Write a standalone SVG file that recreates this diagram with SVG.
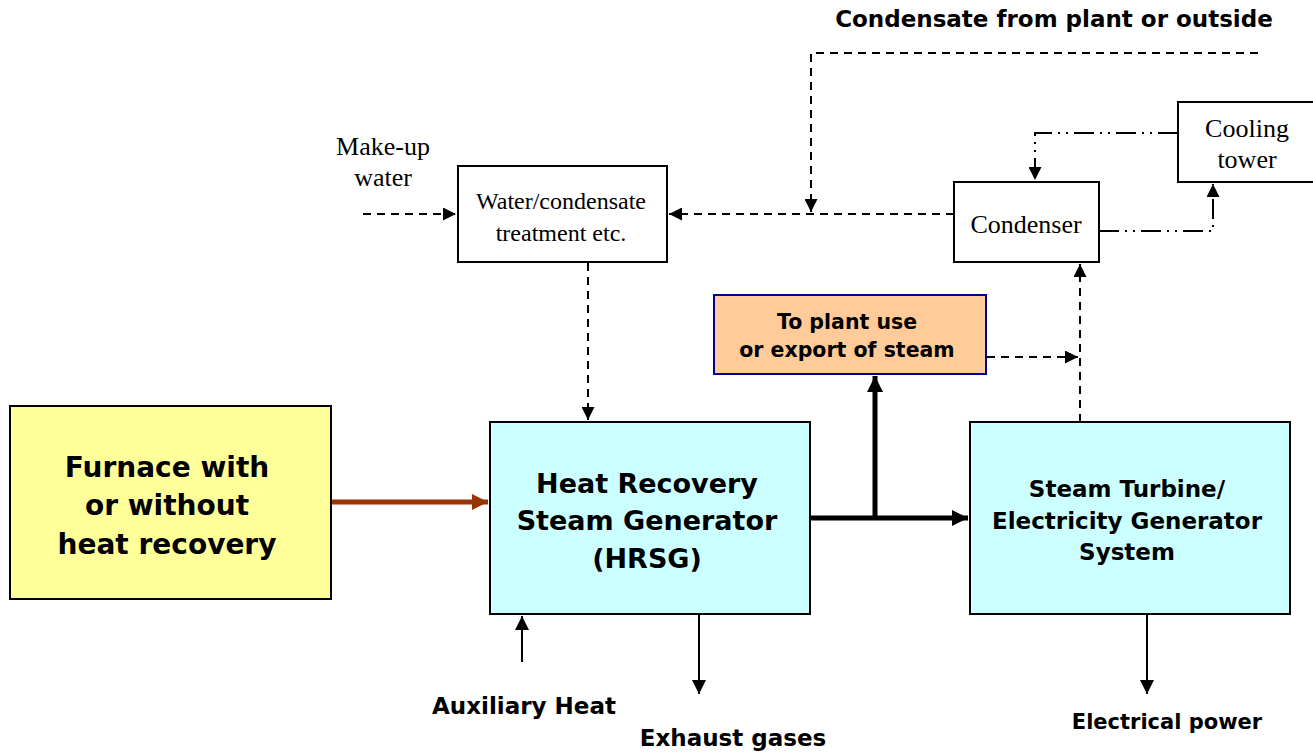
<svg xmlns="http://www.w3.org/2000/svg" width="1313" height="754" viewBox="0 0 1313 754">
<defs>
<style>
.b{font-family:"DejaVu Sans",Verdana,sans-serif;font-weight:bold;fill:#000;text-anchor:middle}
.t{font-family:"Liberation Serif","Times New Roman",serif;fill:#000;text-anchor:middle}
.box{stroke:#000;stroke-width:2}
.dash{fill:none;stroke:#000;stroke-width:2;stroke-dasharray:8 6}
.dd{fill:none;stroke:#000;stroke-width:2;stroke-dasharray:20 6 2 6 2 6}
.thin{fill:none;stroke:#000;stroke-width:2}
.thick{fill:none;stroke:#000;stroke-width:5}
</style>
<marker id="ah" viewBox="0 0 10 10" refX="10" refY="5" markerWidth="13" markerHeight="13" markerUnits="userSpaceOnUse" orient="auto"><path d="M0,0 L10,5 L0,10 z" fill="#000"/></marker>
<marker id="ahs" viewBox="0 0 10 10" refX="10" refY="5" markerWidth="14" markerHeight="14" markerUnits="userSpaceOnUse" orient="auto"><path d="M0,0 L10,5 L0,10 z" fill="#000"/></marker>
<marker id="ahb" viewBox="0 0 10 10" refX="10" refY="5" markerWidth="16" markerHeight="16" markerUnits="userSpaceOnUse" orient="auto"><path d="M0,0 L10,5 L0,10 z" fill="#000"/></marker>
<marker id="ahr" viewBox="0 0 10 10" refX="10" refY="5" markerWidth="16" markerHeight="16" markerUnits="userSpaceOnUse" orient="auto"><path d="M0,0 L10,5 L0,10 z" fill="#993300"/></marker>
</defs>
<rect width="1313" height="754" fill="#fff"/>

<g id="connectors">
<path class="dash" d="M363,214 H456" marker-end="url(#ah)"/>
<path class="dash" d="M954,214 H669" marker-end="url(#ah)"/>
<path class="dash" d="M1258,53 H811 V212" marker-end="url(#ah)"/>
<path class="dash" d="M588,263 V420" marker-end="url(#ah)"/>
<path class="dash" d="M987,357 H1078" marker-end="url(#ah)"/>
<path class="dash" d="M1080,422 V264" marker-end="url(#ah)"/>
<path class="dd" d="M1099,231 H1213 V184" marker-end="url(#ah)"/>
<path class="dd" d="M1178,133 H1035 V180" marker-end="url(#ah)"/>
<path fill="none" stroke="#993300" stroke-width="5" d="M331,502 H488" marker-end="url(#ahr)"/>
<path class="thick" d="M810,518 H968" marker-end="url(#ahb)"/>
<path class="thick" d="M875,518 V376" marker-end="url(#ahb)"/>
<path class="thin" d="M522,662 V616" marker-end="url(#ahs)"/>
<path class="thin" d="M699,614 V694" marker-end="url(#ahs)"/>
<path class="thin" d="M1147,614 V694" marker-end="url(#ahs)"/>
</g>

<g id="furnace">
<rect class="box" x="10" y="406" width="321" height="193" fill="#FFFF99"/>
<text class="b" font-size="28" x="167" y="477">Furnace with</text>
<text class="b" font-size="28" x="167" y="515">or without</text>
<text class="b" font-size="28" x="167" y="554">heat recovery</text>
</g>

<g id="hrsg">
<rect class="box" x="490" y="422" width="320" height="192" fill="#CCFFFF"/>
<text class="b" font-size="27" x="647" y="493">Heat Recovery</text>
<text class="b" font-size="27" x="647" y="530">Steam Generator</text>
<text class="b" font-size="27" x="647" y="568">(HRSG)</text>
</g>

<g id="turbine">
<rect class="box" x="970" y="422" width="320" height="192" fill="#CCFFFF"/>
<text class="b" font-size="23" x="1127" y="497">Steam Turbine/</text>
<text class="b" font-size="23" x="1127" y="529">Electricity Generator</text>
<text class="b" font-size="23" x="1127" y="560">System</text>
</g>

<g id="plantuse">
<rect x="714" y="295" width="272" height="79" fill="#FFCC99" stroke="#000099" stroke-width="2"/>
<text class="b" font-size="20.5" x="847" y="329">To plant use</text>
<text class="b" font-size="20.5" x="847" y="357">or export of steam</text>
</g>

<g id="treatment">
<rect class="box" x="458" y="166" width="209" height="96" fill="#fff"/>
<text class="t" font-size="24" x="561" y="209">Water/condensate</text>
<text class="t" font-size="24" x="561" y="241">treatment etc.</text>
</g>

<g id="condenser">
<rect class="box" x="954" y="182" width="145" height="80" fill="#fff"/>
<text class="t" font-size="26" x="1026" y="233">Condenser</text>
</g>

<g id="cooling">
<rect class="box" x="1178" y="102" width="140" height="80" fill="#fff"/>
<text class="t" font-size="26" x="1247" y="137">Cooling</text>
<text class="t" font-size="26" x="1247" y="168">tower</text>
</g>

<g id="labels">
<text class="b" font-size="23" x="1054" y="27">Condensate from plant or outside</text>
<text class="t" font-size="26" x="383" y="155">Make-up</text>
<text class="t" font-size="26" x="383" y="186">water</text>
<text class="b" font-size="23" x="524" y="714">Auxiliary Heat</text>
<text class="b" font-size="23" x="733" y="746">Exhaust gases</text>
<text class="b" font-size="21" x="1167" y="729">Electrical power</text>
</g>
</svg>
